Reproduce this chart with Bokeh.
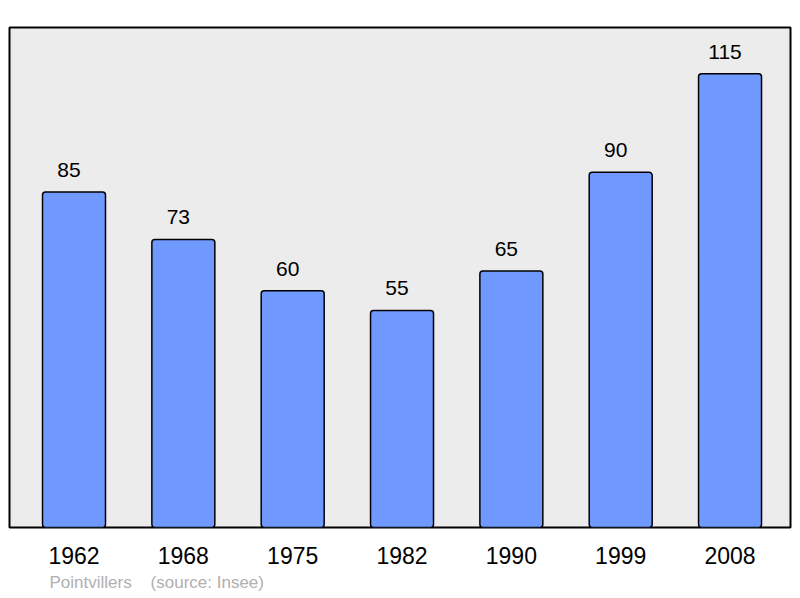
from bokeh.plotting import figure
from bokeh.models import ColumnDataSource, Range1d, FixedTicker, Title
from bokeh.embed import file_html
from bokeh.resources import INLINE
from bokeh.core.properties import value

years = ["1962", "1968", "1975", "1982", "1990", "1999", "2008"]
population = [85, 73, 60, 55, 65, 90, 115]
commune = "Pointvillers"
source_note = "(source: Insee)"

xs = list(range(len(years)))
src = ColumnDataSource(dict(x=xs, top=population, label=[str(v) for v in population]))

p = figure(width=798, height=596, output_backend="svg", toolbar_location=None,
           x_range=Range1d(-0.59, 6.553), y_range=Range1d(0, 126.7),
           min_border_left=9, min_border_right=8, min_border_top=27, min_border_bottom=68)
p.background_fill_color = "#ececec"
p.border_fill_color = "white"
p.outline_line_color = "black"
p.outline_line_width = 2
p.grid.visible = False
p.yaxis.visible = False

p.vbar(x="x", top="top", width=0.576, bottom=0, source=src,
       fill_color="#7099ff", line_color="black", line_width=1.5, border_radius=3)

p.text(x="x", y="top", text="label", source=src, text_align="center",
       text_baseline="alphabetic", y_offset=-22, x_offset=-5,
       text_font=value("Liberation Sans"),
       text_font_size="21px", text_color="black")

xa = p.xaxis[0]
xa.ticker = FixedTicker(ticks=xs)
xa.major_label_overrides = {i: y for i, y in enumerate(years)}
xa.axis_line_color = None
xa.major_tick_line_color = None
xa.minor_tick_line_color = None
xa.major_label_text_font = "Liberation Sans"
xa.major_label_text_font_size = "23px"
xa.major_label_text_color = "black"
xa.major_label_standoff = 13

note = commune + "\u00a0\u00a0\u00a0\u00a0" + source_note
p.add_layout(Title(text=note, align="left", offset=40, text_font="Liberation Sans",
                   text_font_size="17px", text_color="#b0b0b0", text_font_style="normal",
                   standoff=9), "below")

open("out.html", "w").write(file_html(p, INLINE))
